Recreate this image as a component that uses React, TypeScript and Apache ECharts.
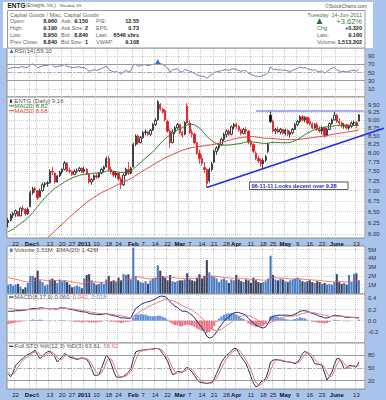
import React, { useEffect, useRef } from "react";
import * as echarts from "echarts";

const FONT = "'Liberation Sans', Arial, Helvetica, sans-serif";

// ---------- data ----------
const tradingDays: [string, number[]][] = [
  ["2010-11", [17, 18, 19, 22, 23, 24, 26, 29, 30]],
  ["2010-12", [1, 2, 3, 6, 7, 8, 9, 10, 13, 14, 15, 16, 17, 20, 21, 22, 23, 27, 28, 29, 30, 31]],
  ["2011-01", [3, 4, 5, 6, 7, 10, 11, 12, 13, 14, 18, 19, 20, 21, 24, 25, 26, 27, 28, 31]],
  ["2011-02", [1, 2, 3, 4, 7, 8, 9, 10, 11, 14, 15, 16, 17, 18, 22, 23, 24, 25, 28]],
  ["2011-03", [1, 2, 3, 4, 7, 8, 9, 10, 11, 14, 15, 16, 17, 18, 21, 22, 23, 24, 25, 28, 29, 30, 31]],
  ["2011-04", [1, 4, 5, 6, 7, 8, 11, 12, 13, 14, 15, 18, 19, 20, 21, 25, 26, 27, 28, 29]],
  ["2011-05", [2, 3, 4, 5, 6, 9, 10, 11, 12, 13, 16, 17, 18, 19, 20, 23, 24, 25, 26, 27, 31]],
  ["2011-06", [1, 2, 3, 6, 7, 8, 9, 10, 13, 14]],
];

const dateLabels: [string, string][] = [
  ["2010-11-22", "22"], ["2010-12-01", "Dec"], ["2010-12-06", "6"], ["2010-12-13", "13"],
  ["2010-12-20", "20"], ["2010-12-27", "27"], ["2011-01-03", "2011"], ["2011-01-10", "10"],
  ["2011-01-18", "18"], ["2011-01-24", "24"], ["2011-02-01", "Feb"], ["2011-02-07", "7"],
  ["2011-02-14", "14"], ["2011-02-22", "22"], ["2011-03-01", "Mar"], ["2011-03-07", "7"],
  ["2011-03-14", "14"], ["2011-03-21", "21"], ["2011-03-28", "28"], ["2011-04-01", "Apr"],
  ["2011-04-11", "11"], ["2011-04-18", "18"], ["2011-04-25", "25"], ["2011-05-02", "May"],
  ["2011-05-09", "9"], ["2011-05-16", "16"], ["2011-05-23", "23"], ["2011-06-01", "June"],
  ["2011-06-13", "13"],
];
const boldLabels = ["Dec", "2011", "Feb", "Mar", "Apr", "May", "June"];

const open = [
  6.25, 6.30, 6.42, 6.45, 6.50, 6.40, 6.58, 6.55, 6.45, 6.62,
  6.95, 7.05, 7.00, 6.85, 7.00, 7.15, 7.18, 7.20, 7.50, 7.45,
  7.22, 7.38, 7.48, 7.55, 7.72, 7.52, 7.50, 7.42, 7.50, 7.52,
  7.58, 7.50, 7.55, 7.42, 7.22, 7.28, 7.38, 7.35, 7.45, 7.55,
  7.62, 7.85, 7.55, 7.48, 7.40, 7.45, 7.30, 7.15, 7.40, 7.55,
  7.45, 7.62, 8.25, 8.50, 8.30, 8.45, 8.60, 8.62, 8.55, 8.68,
  8.85, 9.00, 9.50, 9.35, 9.30, 8.95, 8.65, 8.30, 8.62, 8.75,
  8.85, 8.60, 8.55, 9.45, 8.90, 8.60, 8.55, 8.30, 8.00, 7.85,
  7.60, 7.55, 7.25, 7.55, 7.75, 8.05, 8.15, 8.25, 8.40, 8.55,
  8.65, 8.55, 8.78, 8.85, 8.80, 8.68, 8.58, 8.70, 8.65, 8.32,
  8.25, 8.00, 7.85, 7.80, 7.70, 7.80, 8.05, 9.15, 8.95, 8.65,
  8.70, 8.62, 8.70, 8.58, 8.68, 8.55, 8.60, 8.70, 8.85, 8.95,
  9.10, 9.00, 9.08, 8.95, 8.88, 8.75, 8.85, 8.70, 8.65, 8.75,
  8.52, 8.70, 8.88, 9.00, 9.15, 8.95, 8.90, 8.80, 8.82, 8.75,
  8.80, 8.90, 8.92, 8.96,
];
const high = [
  6.35, 6.45, 6.50, 6.55, 6.52, 6.60, 6.65, 6.58, 6.60, 7.00,
  7.10, 7.10, 7.02, 7.05, 7.20, 7.22, 7.25, 7.55, 7.62, 7.48,
  7.40, 7.52, 7.58, 7.78, 7.75, 7.60, 7.52, 7.55, 7.58, 7.62,
  7.60, 7.62, 7.58, 7.45, 7.32, 7.42, 7.45, 7.48, 7.60, 7.65,
  7.90, 7.92, 7.62, 7.52, 7.50, 7.48, 7.35, 7.45, 7.60, 7.75,
  7.62, 8.30, 8.55, 8.55, 8.50, 8.65, 8.70, 8.65, 8.72, 8.90,
  9.05, 9.65, 9.55, 9.40, 9.35, 9.00, 8.70, 8.70, 8.80, 8.90,
  8.88, 8.65, 8.95, 9.55, 8.98, 8.70, 8.60, 8.32, 8.10, 7.95,
  7.75, 7.58, 7.60, 7.75, 8.10, 8.20, 8.30, 8.45, 8.60, 8.70,
  8.70, 8.82, 8.90, 8.92, 8.82, 8.72, 8.75, 8.78, 8.68, 8.40,
  8.28, 8.05, 7.92, 7.85, 7.85, 7.95, 8.30, 9.30, 9.00, 8.75,
  8.78, 8.75, 8.72, 8.72, 8.70, 8.65, 8.75, 8.90, 9.00, 9.15,
  9.15, 9.12, 9.10, 9.05, 8.92, 8.90, 8.92, 8.80, 8.80, 8.78,
  8.75, 8.92, 9.05, 9.25, 9.20, 9.05, 8.95, 8.90, 8.88, 8.85,
  8.95, 8.98, 8.95, 9.19,
];
const low = [
  6.15, 6.28, 6.35, 6.38, 6.38, 6.40, 6.50, 6.40, 6.42, 6.60,
  6.90, 6.95, 6.78, 6.85, 6.98, 7.08, 7.10, 7.18, 7.40, 7.18,
  7.20, 7.35, 7.42, 7.52, 7.48, 7.45, 7.38, 7.40, 7.45, 7.48,
  7.45, 7.45, 7.40, 7.18, 7.15, 7.25, 7.30, 7.32, 7.42, 7.48,
  7.60, 7.50, 7.42, 7.35, 7.32, 7.25, 7.04, 7.12, 7.38, 7.40,
  7.42, 7.60, 8.20, 8.25, 8.28, 8.42, 8.52, 8.50, 8.50, 8.65,
  8.80, 8.98, 9.30, 9.20, 8.95, 8.60, 8.15, 8.28, 8.55, 8.70,
  8.55, 8.45, 8.52, 8.88, 8.55, 8.45, 8.25, 7.95, 7.70, 7.65,
  7.45, 7.08, 7.20, 7.50, 7.72, 7.95, 8.08, 8.20, 8.35, 8.45,
  8.50, 8.52, 8.70, 8.72, 8.62, 8.52, 8.55, 8.55, 8.25, 8.18,
  8.00, 7.80, 7.72, 7.62, 7.55, 7.75, 8.00, 8.90, 8.60, 8.55,
  8.58, 8.55, 8.55, 8.52, 8.50, 8.45, 8.55, 8.68, 8.80, 8.90,
  8.95, 8.92, 8.85, 8.82, 8.70, 8.72, 8.65, 8.60, 8.55, 8.45,
  8.48, 8.68, 8.85, 8.98, 8.90, 8.82, 8.75, 8.72, 8.70, 8.68,
  8.75, 8.82, 8.75, 8.95,
];
const close = [
  6.30, 6.42, 6.45, 6.52, 6.40, 6.58, 6.55, 6.45, 6.55, 6.95,
  7.05, 7.02, 6.82, 7.00, 7.15, 7.18, 7.20, 7.50, 7.48, 7.22,
  7.38, 7.48, 7.55, 7.72, 7.52, 7.50, 7.42, 7.50, 7.52, 7.58,
  7.48, 7.55, 7.42, 7.22, 7.28, 7.38, 7.35, 7.45, 7.55, 7.62,
  7.85, 7.55, 7.48, 7.40, 7.45, 7.30, 7.15, 7.40, 7.55, 7.45,
  7.58, 8.25, 8.50, 8.30, 8.45, 8.60, 8.62, 8.55, 8.68, 8.85,
  8.98, 9.60, 9.35, 9.25, 9.00, 8.65, 8.30, 8.62, 8.75, 8.85,
  8.60, 8.52, 8.92, 8.90, 8.60, 8.55, 8.30, 8.00, 7.85, 7.72,
  7.55, 7.18, 7.55, 7.70, 8.05, 8.15, 8.25, 8.40, 8.55, 8.65,
  8.55, 8.78, 8.85, 8.80, 8.68, 8.58, 8.70, 8.65, 8.32, 8.25,
  8.05, 7.85, 7.78, 7.70, 7.80, 7.90, 8.25, 8.95, 8.65, 8.70,
  8.62, 8.70, 8.58, 8.68, 8.55, 8.60, 8.70, 8.85, 8.95, 9.10,
  9.00, 9.08, 8.90, 8.88, 8.75, 8.85, 8.70, 8.65, 8.75, 8.52,
  8.70, 8.88, 9.00, 9.15, 8.95, 8.90, 8.80, 8.82, 8.75, 8.80,
  8.90, 8.92, 8.84, 9.16,
];
const ma20 = [
  6.05, 6.08, 6.11, 6.15, 6.19, 6.23, 6.27, 6.31, 6.36, 6.42,
  6.48, 6.55, 6.62, 6.69, 6.76, 6.83, 6.89, 6.95, 7.01, 7.06,
  7.10, 7.14, 7.18, 7.22, 7.26, 7.29, 7.32, 7.35, 7.37, 7.39,
  7.41, 7.42, 7.43, 7.43, 7.44, 7.45, 7.45, 7.46, 7.47, 7.48,
  7.50, 7.51, 7.51, 7.50, 7.49, 7.48, 7.47, 7.47, 7.48, 7.49,
  7.51, 7.56, 7.62, 7.68, 7.74, 7.80, 7.86, 7.92, 7.98, 8.04,
  8.11, 8.19, 8.27, 8.35, 8.42, 8.48, 8.53, 8.58, 8.63, 8.68,
  8.72, 8.76, 8.80, 8.84, 8.86, 8.86, 8.84, 8.80, 8.74, 8.67,
  8.58, 8.49, 8.42, 8.36, 8.31, 8.27, 8.24, 8.23, 8.23, 8.23,
  8.23, 8.24, 8.25, 8.26, 8.27, 8.28, 8.30, 8.32, 8.33, 8.33,
  8.32, 8.31, 8.30, 8.29, 8.28, 8.28, 8.28, 8.30, 8.31, 8.31,
  8.31, 8.30, 8.30, 8.30, 8.30, 8.31, 8.33, 8.36, 8.40, 8.44,
  8.49, 8.54, 8.58, 8.62, 8.66, 8.69, 8.72, 8.74, 8.76, 8.77,
  8.78, 8.79, 8.80, 8.81, 8.82, 8.83, 8.84, 8.84, 8.84, 8.83,
  8.83, 8.82, 8.82, 8.82,
];
const ma50 = [
  null, null, null, null, null, null, null, null, null, null,
  null, null, null, null, null, null, 5.92, 5.97, 6.02, 6.07,
  6.12, 6.17, 6.22, 6.27, 6.32, 6.37, 6.42, 6.47, 6.52, 6.57,
  6.62, 6.67, 6.72, 6.76, 6.80, 6.84, 6.88, 6.92, 6.95, 6.98,
  7.01, 7.04, 7.07, 7.10, 7.13, 7.16, 7.19, 7.22, 7.25, 7.28,
  7.31, 7.35, 7.39, 7.43, 7.47, 7.51, 7.55, 7.59, 7.63, 7.67,
  7.71, 7.75, 7.79, 7.83, 7.87, 7.90, 7.93, 7.96, 7.99, 8.02,
  8.05, 8.08, 8.10, 8.12, 8.14, 8.16, 8.17, 8.18, 8.19, 8.20,
  8.21, 8.22, 8.23, 8.24, 8.25, 8.27, 8.29, 8.31, 8.33, 8.35,
  8.37, 8.39, 8.41, 8.43, 8.44, 8.45, 8.46, 8.47, 8.48, 8.48,
  8.48, 8.47, 8.46, 8.45, 8.44, 8.43, 8.43, 8.43, 8.42, 8.42,
  8.41, 8.40, 8.40, 8.39, 8.39, 8.39, 8.39, 8.39, 8.39, 8.40,
  8.41, 8.42, 8.43, 8.44, 8.45, 8.46, 8.47, 8.48, 8.49, 8.50,
  8.51, 8.53, 8.54, 8.56, 8.57, 8.58, 8.59, 8.60, 8.62, 8.63,
  8.64, 8.65, 8.67, 8.68,
];
const rsi = [
  60, 61, 62, 63, 61, 64, 64, 62, 63, 69,
  71, 67, 62, 64, 66, 67, 67, 70, 69, 63,
  65, 66, 67, 70, 65, 64, 62, 63, 63, 64,
  62, 62, 58, 53, 55, 57, 55, 57, 60, 62,
  66, 57, 54, 51, 52, 50, 46, 51, 55, 52,
  54, 68, 70, 65, 67, 69, 69, 67, 68, 70,
  71, 77, 72, 70, 66, 61, 51, 56, 58, 59,
  53, 51, 57, 56, 53, 51, 48, 44, 42, 41,
  40, 35, 42, 45, 50, 52, 53, 55, 56, 57,
  55, 58, 59, 57, 55, 53, 55, 54, 48, 46,
  43, 41, 41, 40, 43, 45, 50, 64, 57, 58,
  56, 57, 55, 56, 54, 53, 55, 58, 60, 64,
  61, 62, 59, 58, 55, 57, 53, 52, 55, 48,
  53, 57, 60, 63, 56, 54, 52, 53, 51, 53,
  55, 56, 53, 59.1,
];
const volumeM = [
  1.0, 1.1, 0.9, 1.0, 1.1, 0.8, 0.5, 0.7, 1.2, 2.0,
  2.0, 1.8, 2.6, 1.5, 1.3, 0.9, 1.0, 1.6, 1.7, 1.5,
  1.2, 1.6, 1.4, 1.5, 1.3, 1.0, 0.7, 0.8, 0.9, 0.8,
  0.6, 1.7, 2.1, 2.2, 1.5, 1.2, 1.0, 1.1, 1.3, 1.1,
  1.6, 2.0, 1.4, 1.5, 1.3, 1.8, 1.5, 2.2, 2.1, 2.2,
  1.6, 5.2, 1.9, 1.5, 1.3, 1.2, 1.4, 1.1, 1.5, 1.7,
  1.8, 3.2, 2.6, 2.0, 1.8, 1.5, 2.1, 1.4, 1.3, 1.4,
  1.5, 1.5, 1.6, 2.3, 1.6, 1.5, 1.4, 1.8, 2.2, 1.7,
  2.0, 3.8, 2.4, 2.0, 1.9, 1.7, 1.3, 1.6, 1.7, 1.5,
  1.2, 1.6, 1.5, 2.1, 1.6, 1.4, 1.3, 1.6, 1.5, 1.2,
  1.8, 1.5, 1.3, 1.2, 1.3, 1.4, 1.7, 4.3, 2.1, 1.6,
  1.5, 1.7, 1.6, 1.4, 1.3, 1.5, 1.6, 1.7, 1.8, 1.6,
  1.4, 1.3, 1.4, 1.5, 1.3, 1.2, 1.4, 1.3, 1.1, 1.2,
  1.0, 1.1, 1.0, 1.3, 2.2, 1.3, 1.1, 1.2, 1.0, 2.1,
  1.3, 2.2, 2.3, 1.51,
];
const volumeEmaM = [
  1.80, 1.74, 1.67, 1.61, 1.56, 1.49, 1.40, 1.34, 1.33, 1.39,
  1.45, 1.48, 1.59, 1.58, 1.55, 1.49, 1.44, 1.46, 1.48, 1.48,
  1.45, 1.46, 1.45, 1.45, 1.44, 1.39, 1.32, 1.27, 1.22, 1.18,
  1.12, 1.17, 1.25, 1.33, 1.35, 1.33, 1.30, 1.28, 1.28, 1.27,
  1.30, 1.37, 1.37, 1.38, 1.37, 1.41, 1.42, 1.49, 1.55, 1.61,
  1.61, 1.95, 1.94, 1.90, 1.84, 1.78, 1.74, 1.68, 1.66, 1.66,
  1.67, 1.82, 1.89, 1.90, 1.89, 1.85, 1.88, 1.83, 1.78, 1.74,
  1.72, 1.70, 1.69, 1.75, 1.73, 1.71, 1.68, 1.69, 1.74, 1.74,
  1.76, 1.95, 1.99, 1.99, 1.98, 1.95, 1.89, 1.86, 1.84, 1.81,
  1.75, 1.74, 1.72, 1.76, 1.74, 1.71, 1.67, 1.66, 1.64, 1.60,
  1.62, 1.61, 1.58, 1.54, 1.52, 1.51, 1.53, 1.79, 1.82, 1.80,
  1.77, 1.77, 1.75, 1.72, 1.68, 1.66, 1.65, 1.66, 1.67, 1.66,
  1.63, 1.60, 1.58, 1.57, 1.55, 1.51, 1.50, 1.48, 1.44, 1.42,
  1.38, 1.35, 1.32, 1.32, 1.40, 1.39, 1.36, 1.35, 1.31, 1.34,
  1.33, 1.37, 1.42, 1.42,
];
const macdLine = [
  0.17, 0.17, 0.17, 0.18, 0.18, 0.18, 0.19, 0.19, 0.20, 0.21,
  0.22, 0.22, 0.22, 0.23, 0.23, 0.22, 0.22, 0.21, 0.22, 0.21,
  0.21, 0.23, 0.23, 0.23, 0.22, 0.21, 0.20, 0.19, 0.18, 0.17,
  0.16, 0.16, 0.15, 0.13, 0.12, 0.12, 0.11, 0.11, 0.11, 0.12,
  0.13, 0.11, 0.10, 0.09, 0.08, 0.07, 0.05, 0.05, 0.05, 0.04,
  0.05, 0.14, 0.22, 0.25, 0.29, 0.31, 0.33, 0.34, 0.35, 0.37,
  0.39, 0.42, 0.44, 0.44, 0.43, 0.40, 0.34, 0.30, 0.26, 0.24,
  0.20, 0.17, 0.17, 0.16, 0.13, 0.10, 0.05, -0.01, -0.07, -0.13,
  -0.19, -0.28, -0.31, -0.30, -0.26, -0.20, -0.13, -0.07, -0.01, 0.04,
  0.07, 0.11, 0.14, 0.15, 0.15, 0.13, 0.12, 0.09, 0.04, 0.00,
  -0.04, -0.08, -0.10, -0.12, -0.13, -0.11, -0.05, 0.05, 0.08, 0.09,
  0.10, 0.10, 0.10, 0.10, 0.10, 0.09, 0.10, 0.12, 0.14, 0.17,
  0.18, 0.18, 0.17, 0.15, 0.13, 0.12, 0.10, 0.08, 0.07, 0.05,
  0.05, 0.06, 0.08, 0.10, 0.09, 0.09, 0.08, 0.07, 0.06, 0.06,
  0.06, 0.06, 0.05, 0.060,
];
const macdSignal = [
  0.23, 0.22, 0.21, 0.21, 0.20, 0.20, 0.20, 0.20, 0.20, 0.20,
  0.20, 0.21, 0.21, 0.21, 0.22, 0.22, 0.22, 0.22, 0.22, 0.22,
  0.21, 0.22, 0.22, 0.22, 0.22, 0.22, 0.21, 0.21, 0.20, 0.19,
  0.19, 0.18, 0.17, 0.16, 0.15, 0.15, 0.14, 0.13, 0.13, 0.12,
  0.12, 0.12, 0.12, 0.11, 0.10, 0.10, 0.09, 0.08, 0.07, 0.06,
  0.06, 0.08, 0.11, 0.14, 0.17, 0.20, 0.22, 0.25, 0.27, 0.29,
  0.31, 0.33, 0.35, 0.37, 0.38, 0.38, 0.37, 0.36, 0.34, 0.32,
  0.30, 0.27, 0.25, 0.23, 0.21, 0.19, 0.16, 0.13, 0.09, 0.05,
  0.00, -0.06, -0.11, -0.15, -0.17, -0.18, -0.17, -0.15, -0.12, -0.09,
  -0.06, -0.03, 0.01, 0.04, 0.06, 0.08, 0.09, 0.10, 0.09, 0.08,
  0.05, 0.03, 0.00, -0.02, -0.04, -0.05, -0.05, -0.03, -0.01, 0.01,
  0.03, 0.05, 0.06, 0.07, 0.08, 0.08, 0.08, 0.09, 0.10, 0.11,
  0.13, 0.14, 0.15, 0.15, 0.15, 0.14, 0.13, 0.12, 0.11, 0.10,
  0.09, 0.08, 0.08, 0.08, 0.08, 0.08, 0.08, 0.08, 0.07, 0.07,
  0.06, 0.06, 0.05, 0.042,
];
const stoK = [
  36, 29, 40, 56, 62, 68, 72, 78, 82, 84,
  88, 92, 80, 72, 78, 84, 88, 90, 82, 76,
  64, 70, 76, 84, 80, 76, 74, 72, 70, 72,
  74, 72, 70, 62, 48, 33, 32, 34, 48, 64,
  80, 74, 60, 42, 29, 28, 28, 30, 34, 40,
  48, 70, 88, 90, 92, 92, 93, 94, 94, 95,
  96, 96, 92, 84, 76, 66, 50, 34, 36, 42,
  41, 39, 46, 52, 46, 40, 32, 22, 17, 15,
  14, 13, 14, 16, 24, 37, 50, 64, 72, 80,
  84, 90, 96, 96, 86, 76, 68, 60, 45, 29,
  14, 5, 8, 17, 20, 25, 42, 64, 68, 70,
  69, 68, 66, 65, 64, 64, 62, 60, 64, 72,
  84, 89, 86, 80, 72, 60, 59, 58, 56, 38,
  21, 30, 40, 58, 72, 72, 62, 48, 50, 56,
  55, 54, 52, 63.61,
];
const stoD = [
  40, 34, 35, 42, 53, 62, 67, 73, 77, 81,
  85, 88, 87, 81, 77, 78, 83, 87, 87, 83,
  74, 70, 70, 77, 80, 80, 77, 74, 72, 71,
  72, 73, 72, 68, 60, 48, 38, 33, 38, 49,
  64, 73, 71, 59, 44, 33, 28, 29, 31, 35,
  41, 53, 69, 83, 90, 91, 92, 93, 94, 94,
  95, 96, 95, 91, 84, 75, 64, 50, 40, 37,
  40, 41, 42, 46, 48, 46, 39, 31, 24, 18,
  15, 14, 14, 14, 18, 26, 37, 50, 62, 72,
  79, 85, 90, 94, 93, 86, 77, 68, 58, 45,
  29, 16, 9, 10, 15, 21, 29, 44, 58, 67,
  69, 69, 68, 66, 65, 64, 63, 62, 62, 65,
  73, 82, 86, 85, 79, 71, 64, 59, 58, 51,
  38, 30, 30, 43, 57, 67, 69, 61, 53, 51,
  54, 55, 54, 56.62,
];
const priceTicks = [6.0, 6.25, 6.5, 6.75, 7.0, 7.25, 7.5, 7.75, 8.0, 8.25, 8.5, 8.75, 9.0, 9.25, 9.5];
const stoTicks = [20, 50, 80];
const trendLine: [number, number][] = [[81, 7.08], [145, 8.53]];
const resistance = { from: 101, to: 145, price: 9.28 };

const quoteCol1: [string, string][] = [["Open:", "8.960"], ["High:", "9.190"], ["Low:", "8.950"], ["Prev Close:", "8.840"]];
const quoteCol2: [string, string][] = [["Ask:", "9.150"], ["Ask Size:", "2"], ["Bid:", "8.840"], ["Bid Size:", "1"]];
const quoteCol3: [string, string][] = [["P/E:", "12.55"], ["EPS:", "0.73"], ["Last:", "6546 shrs"], ["VWAP:", "9.108"]];
const quoteCol4: [string, string][] = [["Chg:", "+0.320"], ["Last:", "9.160"], ["Volume:", "1,513,302"]];

const TREND_COLOR = "#1f2fe0";

// ---------- option ----------
function buildOption(cats: string[]): any {
  const labelMap = new Map(dateLabels);
  const isTick = (_i: number, v: string) => labelMap.has(v);

  const L = 7, R = 21;
  const grids = [
    { top: 48, height: 49 },
    { top: 97, height: 141 },
    { top: 246, height: 47.5 },
    { top: 294, height: 49 },
    { top: 343, height: 46 },
  ].map((g) => ({ ...g, left: L, right: R, show: true, backgroundColor: "#ffffff", borderColor: "#8a8a8a", borderWidth: 1 }));

  const xAxis = grids.map((_, gi) => ({
    type: "category",
    gridIndex: gi,
    data: cats,
    boundaryGap: true,
    axisLine: { show: false },
    axisTick: { show: false },
    axisPointer: { show: false },
    axisLabel: {
      show: gi === 1 || gi === 4,
      interval: isTick,
      margin: 2.5,
      fontSize: 6,
      color: "#222",
      fontFamily: FONT,
      formatter: (v: string) => {
        const t = labelMap.get(v);
        if (!t) return "";
        return boldLabels.includes(t) ? `{b|${t}}` : t;
      },
      rich: { b: { fontWeight: "bold", fontSize: 6, color: "#111", fontFamily: FONT } },
    },
    splitLine: { show: true, interval: isTick, lineStyle: { color: "#c4c4c4", type: "dotted", width: 1 } },
  }));

  const yBase = (gi: number) => ({
    gridIndex: gi,
    position: "right",
    axisLine: { show: false },
    axisTick: { show: false },
    splitLine: { show: true, lineStyle: { color: "#cfcfcf", type: "dotted", width: 1 } },
    axisLabel: { fontSize: 6, color: "#333", margin: 3, fontFamily: FONT, showMinLabel: false, showMaxLabel: false },
  });

  const yAxis = [
    { ...yBase(0), type: "value", min: -10, max: 110, interval: 20 },
    {
      ...yBase(1),
      type: "log",
      logBase: 10,
      min: 5.92,
      max: 9.76,
      axisTick: { show: false, customValues: priceTicks },
      axisLabel: { ...yBase(1).axisLabel, showMinLabel: true, showMaxLabel: true, customValues: priceTicks, formatter: (v: number) => v.toFixed(2) },
    },
    { ...yBase(2), type: "value", min: 0, max: 5.4, interval: 1, axisLabel: { ...yBase(2).axisLabel, formatter: (v: number) => `${v}M` } },
    { ...yBase(3), type: "value", min: -0.4, max: 0.48, interval: 0.2, axisLabel: { ...yBase(3).axisLabel, formatter: (v: number) => v.toFixed(1) } },
    {
      ...yBase(4),
      type: "value",
      min: 0,
      max: 109,
      axisTick: { show: false, customValues: stoTicks },
      axisLabel: { ...yBase(4).axisLabel, showMinLabel: true, showMaxLabel: true, customValues: stoTicks },
    },
  ];

  const RED = "#e3151d";
  const candleData = open.map((o, i) => {
    const c = close[i];
    const prev = i > 0 ? close[i - 1] : o;
    const col = c >= prev ? "#111111" : RED;
    const fill = c > o ? "#ffffff" : col;
    return { value: [o, c, low[i], high[i]], itemStyle: { color: fill, color0: fill, borderColor: col, borderColor0: col, borderWidth: 0.8 } };
  });
  const volData = volumeM.map((v, i) => ({
    value: v,
    itemStyle: { color: i > 0 && close[i] < close[i - 1] ? "#3a4462" : "#4a7cc4" },
  }));
  const histData = macdLine.map((m, i) => {
    const h = +(m - macdSignal[i]).toFixed(3);
    return { value: h, itemStyle: { color: h >= 0 ? "#5f92d8" : "#ea7484" } };
  });

  const refLines = (vals: number[], dashed: number) => ({
    silent: true,
    symbol: "none",
    label: { show: false },
    animation: false,
    data: vals.map((v) => ({
      yAxis: v,
      lineStyle: v === dashed ? { color: "#aaaaaa", type: [5, 2, 1, 2], width: 1 } : { color: "#9a9a9a", type: "solid", width: 1 },
    })),
  });

  const line = (name: string, data: any[], xi: number, color: string, width = 1, extra: any = {}) => ({
    name, type: "line", data, xAxisIndex: xi, yAxisIndex: xi, symbol: "none", showSymbol: false,
    lineStyle: { color, width }, itemStyle: { color }, silent: true, connectNulls: false, ...extra,
  });

  const series: any[] = [
    line("RSI", rsi, 0, "#6a82b0", 1, {
      markLine: refLines([70, 30, 50], 50),
      markPoint: {
        silent: true, symbol: "triangle", symbolSize: 5, label: { show: false },
        itemStyle: { color: "#3a6ad0" },
        data: [{ coord: [cats[61], rsi[61]] }],
      },
    }),
    {
      name: "ENTG", type: "candlestick", xAxisIndex: 1, yAxisIndex: 1, data: candleData, barWidth: "75%", silent: true,
      markLine: {
        silent: true, symbol: "none", label: { show: false }, animation: false,
        data: [
          [
            { coord: [cats[trendLine[0][0]], trendLine[0][1]], lineStyle: { color: TREND_COLOR, width: 1.6, type: "solid" } },
            { coord: [cats[trendLine[1][0]], trendLine[1][1]] },
          ],
          [
            { coord: [cats[resistance.from], resistance.price], lineStyle: { color: "#8f93f2", width: 1.5, type: "solid" } },
            { coord: [cats[resistance.to], resistance.price] },
          ],
        ],
      },
    },
    line("MA(20)", ma20, 1, "#2f7d2f", 1),
    line("MA(50)", ma50, 1, "#e8433c", 1),
    { name: "Volume", type: "bar", xAxisIndex: 2, yAxisIndex: 2, data: volData, barWidth: "85%", silent: true },
    line("EMA(20)", volumeEmaM, 2, "#f05a5a", 0.8),
    { name: "Hist", type: "bar", xAxisIndex: 3, yAxisIndex: 3, data: histData, barWidth: "90%", silent: true },
    line("MACD", macdLine, 3, "#1d2d6b", 1),
    line("Signal", macdSignal, 3, "#f07a7a", 1),
    line("%K", stoK, 4, "#1d2d6b", 1, { markLine: refLines([80, 20, 50], 50) }),
    line("%D", stoD, 4, "#f07070", 1),
  ];

  const T = (x: number, y: number, text: string, o: any = {}) => ({
    type: "text", x, y, z: 100, silent: true,
    style: { text, fontFamily: FONT, fontSize: 5.5, fill: "#666", textVerticalAlign: "middle", ...o },
  });
  const rowsY = [20.7, 27.7, 34.7, 41.8];
  const graphics: any[] = [
    { type: "rect", z: 1, silent: true, shape: { x: 3, y: 2, width: 370, height: 46 }, style: { fill: "#ffffff" } },
    { type: "rect", z: 2, silent: true, shape: { x: 7.5, y: 10.5, width: 357.5, height: 37.5 }, style: { fill: "none", stroke: "#9a9a9a", lineWidth: 1 } },
    T(7.5, 5.5, "ENTG", { fontSize: 6.5, fontWeight: "bold", fill: "#111" }),
    T(26, 5.7, "(Entegris, Inc.)", { fontSize: 4.6, fill: "#555" }),
    T(60, 5.9, "Nasdaq GS", { fontSize: 4.2, fill: "#555" }),
    T(367, 5.7, "©StockCharts.com", { textAlign: "right", fontSize: 5, fill: "#555" }),
    T(10, 14.7, "Capital Goods / Misc. Capital Goods"),
    T(362, 14.7, "Tuesday  14-Jun-2011", { textAlign: "right" }),
  ];
  const addCol = (rows: [string, string][], lx: number, vx: number, ys: number[]) => {
    rows.forEach(([lab, val], i) => {
      graphics.push(T(lx, ys[i], lab));
      graphics.push(T(vx, ys[i], val, { textAlign: "right", fontWeight: "bold", fill: "#222" }));
    });
  };
  addCol(quoteCol1, 10, 57, rowsY);
  addCol(quoteCol2, 61, 88, rowsY);
  addCol(quoteCol3, 96, 139, rowsY);
  addCol(quoteCol4, 317, 362, rowsY.slice(1));
  graphics.push(
    { type: "polygon", z: 100, silent: true, shape: { points: [[316.5, 24], [319.5, 18.2], [322.5, 24]] }, style: { fill: "#1d7a24" } },
    T(362, 21, "+3.62%", { textAlign: "right", fontSize: 7.5, fill: "#2d8c33" }),
    // panel legends
    { type: "polygon", z: 100, silent: true, shape: { points: [[9.5, 53], [11.5, 49.2], [13.5, 53]] }, style: { fill: "#3a6ad0" } },
    T(14.5, 51.4, "RSI(14) 59.10", { fontSize: 6, fill: "#555" }),
    { type: "rect", z: 100, silent: true, shape: { x: 10, y: 99.5, width: 2, height: 3.5 }, style: { fill: "#444" } },
    T(14.5, 101.4, "ENTG (Daily) 9.16", { fontSize: 6, fill: "#555" }),
    { type: "line", z: 100, silent: true, shape: { x1: 9, y1: 105.9, x2: 14, y2: 105.9 }, style: { stroke: "#2f7d2f", lineWidth: 1 } },
    T(14.5, 105.9, "MA(20) 8.82", { fontSize: 6, fill: "#2f7d2f" }),
    { type: "line", z: 100, silent: true, shape: { x1: 9, y1: 110.7, x2: 14, y2: 110.7 }, style: { stroke: "#e8433c", lineWidth: 1 } },
    T(14.5, 110.7, "MA(50) 8.68", { fontSize: 6, fill: "#e8433c" }),
    { type: "rect", z: 100, silent: true, shape: { x: 10, y: 248.5, width: 2.5, height: 3.5 }, style: { fill: "#4a7cc4" } },
    T(14.5, 250.4, "Volume 1.51M, EMA(20) 1.42M", { fontSize: 6, fill: "#555" }),
    { type: "line", z: 100, silent: true, shape: { x1: 9, y1: 297, x2: 13.5, y2: 297 }, style: { stroke: "#1d2d6b", lineWidth: 1.2 } },
    T(14.5, 297, "MACD(8,17,9) 0.060, {r|0.042}, {b|0.018}", {
      fontSize: 6, fill: "#555",
      rich: { r: { fill: "#ef6b6b", fontSize: 6, fontFamily: FONT }, b: { fill: "#6b8fe0", fontSize: 6, fontFamily: FONT } },
    }),
    { type: "line", z: 100, silent: true, shape: { x1: 9, y1: 346.3, x2: 13.5, y2: 346.3 }, style: { stroke: "#1d2d6b", lineWidth: 1.2 } },
    T(14.5, 346.3, "Full STO %K(12,3) %D(3) 63.61, {r|56.62}", {
      fontSize: 6, fill: "#555",
      rich: { r: { fill: "#ef6b6b", fontSize: 6, fontFamily: FONT } },
    }),
    // annotation
    { type: "rect", z: 100, silent: true, shape: { x: 249.5, y: 182, width: 98.5, height: 7.5 }, style: { fill: "#ffffff", stroke: "#333", lineWidth: 0.8 } },
    T(251.5, 185.9, "06-11-11 Looks decent over 9.28", { fontSize: 5.6, fontWeight: "bold", fill: "#1b2bd6" }),
  );

  return {
    animation: false,
    backgroundColor: "#a8c4ec",
    textStyle: { fontFamily: FONT },
    grid: grids,
    xAxis,
    yAxis,
    series,
    graphic: { elements: graphics },
  };
}

export default function App() {
  const ref = useRef<HTMLDivElement>(null);
  useEffect(() => {
    document.body.style.margin = "0";
    const dates = tradingDays.flatMap(([ym, days]) => days.map((d) => `${ym}-${d < 10 ? "0" + d : d}`));
    const cats = [...dates, "pad-1", "pad-2"];
    const chart = echarts.init(ref.current!, undefined, { renderer: "svg" });
    chart.setOption(buildOption(cats));
    // the drawn trend line runs on past the plot edge, as in the original: extend it with the library's own scale
    const a = chart.convertToPixel({ xAxisIndex: 1, yAxisIndex: 1 }, [cats[trendLine[0][0]], trendLine[0][1]]) as number[];
    const b = chart.convertToPixel({ xAxisIndex: 1, yAxisIndex: 1 }, [cats[trendLine[1][0]], trendLine[1][1]]) as number[];
    if (a && b && isFinite(a[0]) && isFinite(b[0]) && b[0] !== a[0]) {
      const xEnd = 384;
      const slope = (b[1] - a[1]) / (b[0] - a[0]);
      chart.setOption({
        graphic: {
          elements: [
            {
              id: "trendExt", type: "line", z: 60, silent: true,
              shape: { x1: b[0], y1: b[1], x2: xEnd, y2: b[1] + slope * (xEnd - b[0]) },
              style: { stroke: TREND_COLOR, lineWidth: 1.6 },
            },
          ],
        },
      });
    }
    return () => chart.dispose();
  }, []);
  return <div ref={ref} style={{ width: 386, height: 400 }} />;
}
